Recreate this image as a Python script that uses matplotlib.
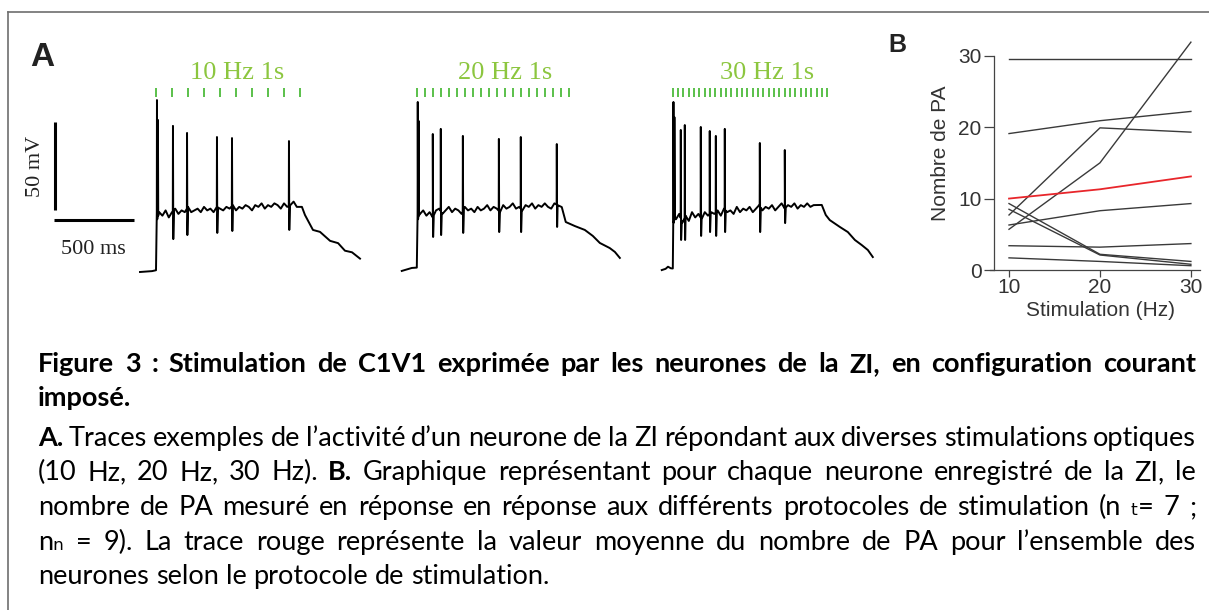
import numpy as np
import matplotlib
matplotlib.use('Agg')
import matplotlib.pyplot as plt
from matplotlib.lines import Line2D
from matplotlib.transforms import IdentityTransform

W, H = 1209, 610

# ---- panel A : example traces (time in ms from light onset, Vm in mV)
stim_freqs = [10, 20, 30]
stim_labels = ['10 Hz 1s', '20 Hz 1s', '30 Hz 1s']
trace_offsets = [850, 2480, 4080]      # position of each trace on the shared time axis
label_times = [510, 550, 590]

pre_t = [[-100, -25, 0], [-94, -31, 0], [-69, -45, -30, -12, 0]]
pre_v = [[-70, -69.5, -69], [-69.4, -67.7, -67.5], [-68.9, -68.2, -67.0, -67.9, -68]]

plateau_t = np.arange(20, 900, 20)
plateau_v = [
    [-36, -38, -35, -39, -36, -34, -37, -35, -36, -33, -36, -35, -34, -36, -33,
     -35, -34, -36, -33, -34, -35, -33, -34, -32, -35, -33, -34, -32, -33, -35,
     -32, -33, -31, -34, -32, -33, -31, -32, -34, -31, -33, -32, -30, -33],
    [-37, -35, -38, -36, -39, -35, -34, -37, -35, -33, -36, -34, -35, -37, -33,
     -35, -34, -36, -33, -35, -34, -32, -35, -33, -34, -36, -32, -34, -33, -31,
     -34, -33, -35, -32, -33, -31, -34, -32, -33, -31, -33, -34, -31, -32],
    [-40, -37, -42, -38, -41, -36, -39, -37, -40, -36, -38, -36, -37, -35, -38,
     -34, -36, -35, -37, -33, -36, -34, -35, -33, -36, -34, -32, -35, -33, -34,
     -32, -35, -33, -31, -34, -32, -33, -31, -34, -32, -33, -31, -33, -32],
]
plat_end_t = [912, 906, 931]
plat_end_v = [-33, -33.1, -31.9]

spike_t = [
    [6, 12, 106, 194, 381, 475, 831],
    [6, 12, 100, 150, 288, 513, 650, 875],
    [4, 10, 50, 75, 175, 231, 269, 325, 544, 700],
]
spike_peak = [
    [27.7, 16.4, 13.0, 9.0, 6.7, 6.1, 4.4],
    [26.6, 15.8, 8.4, 11.3, 7.3, 5.6, 6.7, 2.7],
    [26.6, 18.0, 10.7, 13.5, 12.4, 10.1, 7.3, 11.3, 3.3, -0.7],
]
spike_trough = [
    [-40, -38, -51.3, -49.0, -47.8, -46.7, -46.1],
    [-40, -38, -50.1, -49.0, -47.8, -47.3, -47.3, -44.4],
    [-42, -40, -51.8, -51.8, -49.5, -47.3, -49.5, -47.3, -47.3, -42.2],
]

decay_t = [
    [931, 981, 1025, 1088, 1138, 1181, 1225, 1275],
    [931, 988, 1050, 1100, 1144, 1206, 1238, 1269],
    [956, 981, 1044, 1094, 1138, 1181, 1219, 1250],
]
decay_v = [
    [-37.6, -46.1, -47.2, -52.3, -53.6, -57.9, -58.8, -62.4],
    [-41.6, -43.9, -46.1, -49.5, -53.5, -56.4, -58.6, -62.0],
    [-37.6, -40.5, -44.4, -47.3, -51.8, -54.7, -57.5, -61.5],
]

# ---- panel B : number of APs per neuron
stim_hz = [10, 20, 30]
neuron_pa = [
    [29.5, 29.5, 29.5],
    [19.1, 20.9, 22.2],
    [7.7, 19.9, 19.3],
    [5.7, 15.0, 31.9],
    [9.3, 2.2, 1.2],
    [8.5, 2.1, 0.8],
    [6.3, 8.3, 9.3],
    [3.4, 3.2, 3.7],
    [1.7, 1.2, 0.6],
]
mean_pa = [10.0, 11.3, 13.1]

caption_lines = [
    ("**Figure 3 : Stimulation de C1V1 exprimée par les neurones de la ZI, en configuration courant**", True),
    ("**imposé.**", False),
    ("**A.** Traces exemples de l’activité d’un neurone de la ZI répondant aux diverses stimulations optiques", True),
    ("(10 Hz, 20 Hz, 30 Hz). **B.** Graphique représentant pour chaque neurone enregistré de la ZI, le", True),
    ("nombre de PA mesuré en réponse en réponse aux différents protocoles de stimulation (n ₜ= 7 ;", True),
    ("nₙ = 9). La trace rouge représente la valeur moyenne du nombre de PA pour l’ensemble des", True),
    ("neurones selon le protocole de stimulation.", False),
]
caption_baselines = [372, 406, 446, 480, 515, 550, 584]


def px_axes(fig, x, y, w, h):
    return fig.add_axes([x / W, 1 - (y + h) / H, w / W, h / H])


def build_trace(k):
    base_t = np.append(plateau_t, plat_end_t[k])
    base_v = np.append(plateau_v[k], plat_end_v[k])
    t = list(pre_t[k]) + list(base_t) + list(decay_t[k])
    v = list(pre_v[k]) + list(base_v) + list(decay_v[k])
    for ts, pk, tr in zip(spike_t[k], spike_peak[k], spike_trough[k]):
        t += [ts - 1, ts, ts + 2, ts + 6]
        v += [np.interp(ts - 1, base_t, base_v), pk, tr, np.interp(ts + 6, base_t, base_v)]
    order = np.argsort(t, kind='stable')
    return np.array(t)[order] + trace_offsets[k], np.array(v)[order]


fig = plt.figure(figsize=(W / 100, H / 100), dpi=100)
fig.patch.set_facecolor('white')

# frame around the figure
frame_kw = dict(color='#6e6e6e', lw=1.2, transform=IdentityTransform())
fig.add_artist(Line2D([8, W], [H - 12, H - 12], **frame_kw))
fig.add_artist(Line2D([8, 8], [0, H - 12], **frame_kw))

# ---- panel A
axA = px_axes(fig, 20, 30, 880, 260)
axA.set_xlim(0, 880 / 0.16)
axA.set_ylim(-70 - 18 / 1.76, -70 + 242 / 1.76)
axA.axis('off')

for k in range(3):
    t, v = build_trace(k)
    axA.plot(t, v, color='black', lw=1.4, solid_joinstyle='round')
    pulses = trace_offsets[k] + np.arange(stim_freqs[k]) * 1000 / stim_freqs[k]
    axA.vlines(pulses, 29.4, 34.5, color='#4dbb3c', lw=1.3)
    axA.text(trace_offsets[k] + label_times[k], 43, stim_labels[k], ha='center', va='center',
             family='Liberation Serif', fontsize=19, color='#8cc63f')

# scale bars
axA.plot([219, 219], [-35, 15], color='black', lw=2.2, solid_capstyle='butt')
axA.plot([212, 712], [-40.5, -40.5], color='black', lw=2.2, solid_capstyle='butt')
axA.text(94, -10, '50 mV', rotation=90, ha='center', va='center',
         family='Liberation Serif', fontsize=16, color='#222222')
axA.text(456, -57.5, '500 ms', ha='center', va='center',
         family='Liberation Serif', fontsize=16, color='#222222')

fig.text(30 / W, 1 - 58 / H, 'A', family='Liberation Sans', fontweight='bold',
         fontsize=24, ha='left', va='center', color='#222222')
fig.text(888 / W, 1 - 45 / H, 'B', family='Liberation Sans', fontweight='bold',
         fontsize=18, ha='left', va='center', color='#222222')

# ---- panel B
axB = px_axes(fig, 990, 35, 210, 235)
axB.set_xlim(7.91, 31.0)
axB.set_ylim(0, 32.9)
for vals in neuron_pa:
    axB.plot(stim_hz, vals, color='#3a3a3a', lw=1.0, clip_on=False)
axB.plot(stim_hz, mean_pa, color='#e8262b', lw=1.3, clip_on=False)

for side in ['top', 'right']:
    axB.spines[side].set_visible(False)
axB.spines['left'].set_position(('data', 8.35))
axB.spines['left'].set_bounds(0, 30)
for side in ['left', 'bottom']:
    axB.spines[side].set_color('#444444')
    axB.spines[side].set_linewidth(0.9)
axB.set_xticks(stim_hz)
axB.set_yticks([0, 10, 20, 30])
axB.tick_params(axis='y', direction='out', length=7, width=0.9, color='#444444',
                labelsize=15, labelcolor='#333333', pad=2)
axB.tick_params(axis='x', direction='out', length=5, width=0.9, color='#444444',
                labelsize=15, labelcolor='#333333', pad=1)
for lab in axB.get_xticklabels() + axB.get_yticklabels():
    lab.set_family('Liberation Sans')
fig.text(940 / W, 1 - 153 / H, 'Nombre de PA', rotation=90, ha='center', va='center',
         family='Liberation Sans', fontsize=15, color='#333333')
fig.text(1101 / W, 1 - 310 / H, 'Stimulation (Hz)', ha='center', va='center',
         family='Liberation Sans', fontsize=15, color='#333333')

# ---- caption, laid out word by word so lines can be justified
cap_size = 19.5
cap_family = ['Lato', 'DejaVu Sans']
x_left, x_right = 38, 1196
renderer = fig.canvas.get_renderer()


def word_width(s, weight):
    t = fig.text(0, 0, s, fontsize=cap_size, family=cap_family, fontweight=weight,
                 transform=IdentityTransform())
    w = t.get_window_extent(renderer).width
    t.remove()
    return w


space_w = word_width('n n', 'normal') - word_width('nn', 'normal')

for (line, justify), base in zip(caption_lines, caption_baselines):
    words = []
    bold = False
    for tok in line.split(' '):
        if tok.startswith('**'):
            bold = True
            tok = tok[2:]
        end_bold = tok.endswith('**')
        if end_bold:
            tok = tok[:-2]
        words.append((tok, 'bold' if bold else 'normal'))
        if end_bold:
            bold = False
    widths = [word_width(w, wt) for w, wt in words]
    if justify and len(words) > 1:
        gap = (x_right - x_left - sum(widths)) / (len(words) - 1)
    else:
        gap = space_w
    x = x_left
    for (w, wt), ww in zip(words, widths):
        fig.text(x, H - base, w, fontsize=cap_size, family=cap_family, fontweight=wt,
                 color='black', ha='left', va='baseline', transform=IdentityTransform())
        x += ww + gap

fig.savefig('out.png', dpi=100, facecolor='white')
